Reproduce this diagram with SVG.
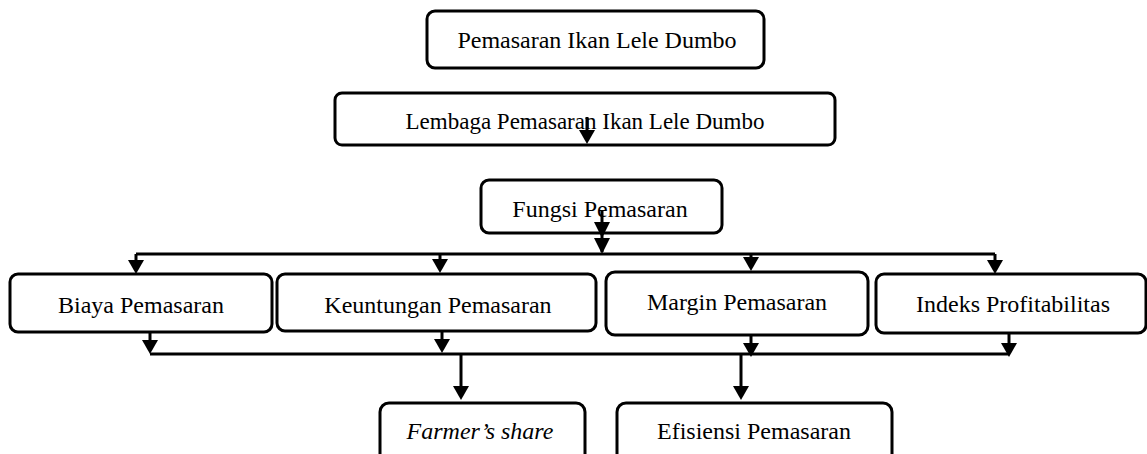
<svg xmlns="http://www.w3.org/2000/svg" width="1147" height="454" viewBox="0 0 1147 454">
<style>
.box{fill:#fff;stroke:#000;stroke-width:3}
.t{font-family:"Liberation Serif","Times New Roman",serif;font-size:24px;fill:#000;text-anchor:middle}
.c{fill:none;stroke:#000;stroke-width:3}
.a{marker-end:url(#ah)}
</style>
<defs>
<marker id="ah" markerUnits="userSpaceOnUse" viewBox="0 -8 14 16" refX="4" refY="0" markerWidth="14" markerHeight="16" orient="auto">
<path d="M0,-8 L14,0 L0,8 z" fill="#000"/>
</marker>
</defs>
<g id="n1"><rect class="box" x="427" y="11" width="337" height="57" rx="8"/><text class="t" x="597" y="48">Pemasaran Ikan Lele Dumbo</text></g>
<g id="n2"><rect class="box" x="335" y="93" width="500" height="52" rx="7"/><text class="t" x="585" y="129" style="font-size:23px">Lembaga Pemasaran Ikan Lele Dumbo</text></g>
<g id="n3"><rect class="box" x="481" y="180" width="241" height="53" rx="8"/><text class="t" x="600" y="217">Fungsi Pemasaran</text></g>
<g id="n4"><rect class="box" x="10" y="274" width="262" height="58" rx="8"/><text class="t" x="141" y="313">Biaya Pemasaran</text></g>
<g id="n5"><rect class="box" x="277" y="274" width="319" height="57" rx="8"/><text class="t" x="438" y="313">Keuntungan Pemasaran</text></g>
<g id="n6"><rect class="box" x="606" y="272" width="262" height="63" rx="9"/><text class="t" x="737" y="310">Margin Pemasaran</text></g>
<g id="n7"><rect class="box" x="876" y="274" width="270" height="59" rx="8"/><text class="t" x="1013" y="312">Indeks Profitabilitas</text></g>
<g id="n8"><rect class="box" x="380" y="403" width="205" height="62" rx="9"/><text class="t" x="480" y="439" style="font-style:italic">Farmer’s share</text></g>
<g id="n9"><rect class="box" x="617" y="403" width="275" height="62" rx="9"/><text class="t" x="754" y="439">Efisiensi Pemasaran</text></g>
<g id="connectors">
<line class="c a" x1="587" y1="117" x2="587" y2="134"/>
<line class="c" x1="602" y1="210" x2="602" y2="252"/>
<polygon points="594,222 610,222 602,238" fill="#000"/>
<polygon points="594,238 610,238 602,254" fill="#000"/>
<line class="c" x1="136" y1="254" x2="995" y2="254"/>
<line class="c a" x1="136" y1="254" x2="136" y2="264"/>
<line class="c a" x1="440" y1="254" x2="440" y2="263"/>
<line class="c a" x1="751" y1="254" x2="751" y2="261"/>
<line class="c a" x1="995" y1="254" x2="995" y2="264"/>
<line class="c" x1="150" y1="354" x2="1009" y2="354"/>
<line class="c a" x1="150" y1="332" x2="150" y2="344"/>
<line class="c a" x1="442" y1="331" x2="442" y2="343"/>
<line class="c a" x1="751" y1="335" x2="751" y2="347"/>
<line class="c a" x1="1009" y1="333" x2="1009" y2="347"/>
<line class="c a" x1="461" y1="354" x2="461" y2="390"/>
<line class="c a" x1="741" y1="354" x2="741" y2="390"/>
</g>
</svg>
